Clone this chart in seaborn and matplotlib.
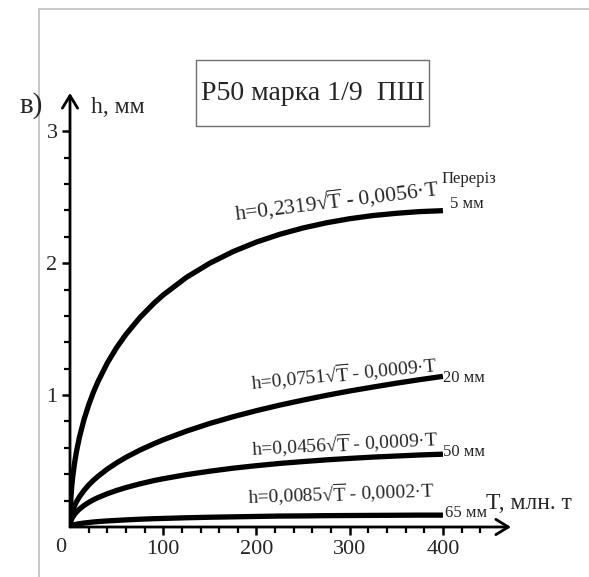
import matplotlib
matplotlib.use("Agg")
import matplotlib.pyplot as plt
import numpy as np
import pandas as pd
import seaborn as sns
from matplotlib.lines import Line2D
from matplotlib.patches import Rectangle

# --- Données : usure h (мм) vs tonnage T (млн. т) ---
T_values = [0, 1, 2, 3, 5, 7, 10, 15, 20, 25, 30, 40, 50, 60, 75, 90, 100, 125,
            150, 175, 200, 225, 250, 275, 300, 325, 350, 375, 400]
h_5mm = [0, 0.226, 0.317, 0.385, 0.490, 0.574, 0.677, 0.814, 0.925, 1.020,
         1.102, 1.243, 1.360, 1.460, 1.588, 1.696, 1.759, 1.893, 2.000, 2.088,
         2.160, 2.219, 2.267, 2.306, 2.337, 2.361, 2.378, 2.391, 2.398]
h_20mm = [0, 0.074, 0.104, 0.127, 0.163, 0.192, 0.228, 0.277, 0.318, 0.353,
          0.384, 0.439, 0.486, 0.528, 0.583, 0.631, 0.661, 0.727, 0.785, 0.836,
          0.882, 0.924, 0.962, 0.998, 1.031, 1.061, 1.090, 1.117, 1.142]
h_50mm = [0, 0.045, 0.063, 0.076, 0.097, 0.114, 0.135, 0.163, 0.186, 0.206,
          0.223, 0.252, 0.277, 0.299, 0.327, 0.352, 0.366, 0.397, 0.423, 0.446,
          0.465, 0.482, 0.496, 0.509, 0.520, 0.530, 0.538, 0.546, 0.552]
h_65mm = [0, 0.008, 0.012, 0.014, 0.018, 0.021, 0.025, 0.030, 0.034, 0.038,
          0.041, 0.046, 0.050, 0.054, 0.059, 0.063, 0.065, 0.070, 0.074, 0.077,
          0.080, 0.083, 0.084, 0.086, 0.087, 0.088, 0.089, 0.090, 0.090]

sections = ["5 мм", "20 мм", "50 мм", "65 мм"]
coef_a = ["0,2319", "0,0751", "0,0456", "0,0085"]
coef_b = ["0,0056", "0,0009", "0,0009", "0,0002"]
x_ticks = [100, 200, 300, 400]
y_ticks = [1, 2, 3]
title = "P50 марка 1/9  ПШ"

df = pd.DataFrame({
    "T": T_values * 4,
    "h": h_5mm + h_20mm + h_50mm + h_65mm,
    "Переріз": [s for s in sections for _ in T_values],
})

sns.set_style("white")
plt.rcParams["font.family"] = ["Liberation Serif", "DejaVu Serif"]
plt.rcParams["mathtext.fontset"] = "custom"
plt.rcParams["mathtext.rm"] = "Liberation Serif"

fig = plt.figure(figsize=(5.89, 5.77), dpi=100)
ax = fig.add_axes([70 / 589, 50 / 577, 441 / 589, 434 / 577])

sns.lineplot(data=df, x="T", y="h", hue="Переріз", palette=["black"] * 4,
             linewidth=3.8, legend=False, ax=ax, solid_capstyle="butt")

ax.set_xlim(0, 473)
ax.set_ylim(0, 3.29)
for sp in ax.spines.values():
    sp.set_visible(False)
ax.set_xlabel("")
ax.set_ylabel("")

# ticks
ax.set_xticks(x_ticks)
ax.set_xticklabels([str(v) for v in x_ticks], fontsize=16)
ax.set_xticks(np.arange(20, 441, 20), minor=True)
ax.set_yticks(y_ticks)
ax.set_yticklabels([str(v) for v in y_ticks], fontsize=16)
ax.set_yticks(np.arange(0.2, 3.01, 0.2), minor=True)
ax.tick_params(axis="both", which="major", direction="out", length=6, width=1.8,
               color="black", pad=3, bottom=True, left=True)
ax.tick_params(axis="both", which="minor", direction="out", length=4, width=1.6,
               color="black", bottom=True, left=True)
ax.text(-4, -0.08, "0", ha="right", va="top", fontsize=16)

# axes with arrows
arrow = dict(arrowstyle="->,head_length=0.9,head_width=0.55", lw=2.0, color="black",
             shrinkA=0, shrinkB=0)
ax.annotate("", xy=(473, 0), xytext=(0, 0), arrowprops=arrow, annotation_clip=False)
ax.annotate("", xy=(0, 3.29), xytext=(0, 0), arrowprops=arrow, annotation_clip=False)

ax.text(23, 3.14, "h, мм", ha="left", va="baseline", fontsize=17)
ax.text(446, 0.14, "T, млн. т", ha="left", va="baseline", fontsize=17)

# formulas along the curves
formula_pos = [(396, 2.51, 7, 15.5), (394.6, 1.174, 5.5, 14),
               (394.6, 0.614, 3, 14), (391.4, 0.22, 2, 14)]
for a, b, (tx, hy, rot, fs) in zip(coef_a, coef_b, formula_pos):
    text = "h=" + a + "√" + r"$\overline{\mathrm{T}}$" + " - " + b + "·T"
    ax.text(tx, hy, text, ha="right", va="baseline", rotation=rot,
            rotation_mode="anchor", fontsize=fs)

ax.text(399, 2.61, "Переріз", ha="left", va="baseline", fontsize=12)
section_pos = [(407.5, 2.45), (400, 1.13), (400, 0.57), (402, 0.106)]
for text, (tx, hy) in zip(sections, section_pos):
    ax.text(tx, hy, text, ha="left", va="center", fontsize=12)

# frame and title box
fig.add_artist(Line2D([39 / 589, 39 / 589], [0, 1 - 9 / 577], color="#c4c4c4", lw=1.3))
fig.add_artist(Line2D([39 / 589, 1], [1 - 9 / 577, 1 - 9 / 577], color="#c4c4c4", lw=1.3))
fig.add_artist(Rectangle((196 / 589, 1 - 126 / 577), 233 / 589, 66 / 577,
                         transform=fig.transFigure, fill=False, ec="#707070", lw=1.0))
fig.text(313 / 589, 1 - 94 / 577, title, ha="center", va="center", fontsize=20)
fig.text(20 / 589, 1 - 106 / 577, "в)", ha="left", va="center", fontsize=21)

fig.savefig("out.png", dpi=100)
